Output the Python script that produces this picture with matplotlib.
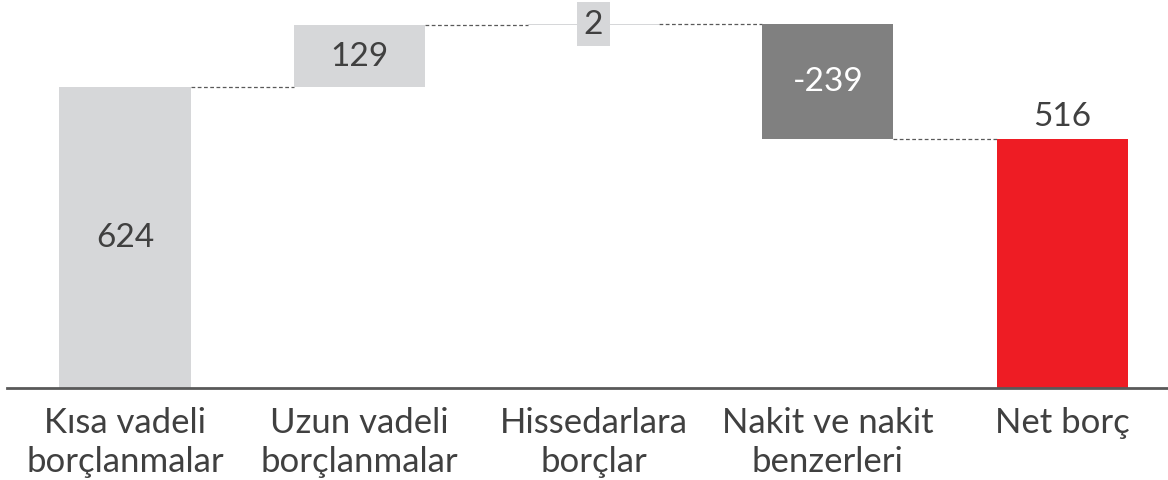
import matplotlib
matplotlib.use("Agg")
import matplotlib.pyplot as plt
from matplotlib import font_manager

categories = ["Kısa vadeli\nborçlanmalar", "Uzun vadeli\nborçlanmalar", "Hissedarlara\nborçlar",
              "Nakit ve nakit\nbenzerleri", "Net borç"]
values = [624, 129, 2, -239, 516]
kinds = ["start", "delta", "delta", "delta", "total"]

names = {f.name for f in font_manager.fontManager.ttflist}
fam = "Lato" if "Lato" in names else "DejaVu Sans"
plt.rcParams['font.family'] = [fam, 'DejaVu Sans']

LIGHT = "#d6d7d9"
DARK = "#808080"
RED = "#ee1c24"
TXT = "#404040"

fig = plt.figure(figsize=(11.68, 4.81), dpi=100)
ax = fig.add_axes([7/1168, 92/481, 1161/1168, 389/481])

width = 0.56
running = 0
bottoms, heights, colors = [], [], []
for v, k in zip(values, kinds):
    if k == "start" or k == "total":
        b, h = 0, v
        running = v
        colors.append(LIGHT if k == "start" else RED)
    else:
        if v >= 0:
            b, h = running, v
        else:
            b, h = running + v, -v
        running += v
        colors.append(LIGHT if v >= 0 else DARK)
    bottoms.append(b)
    heights.append(h)

xs = list(range(len(values)))
ax.bar(xs, heights, bottom=bottoms, width=width, color=colors, zorder=2)

# connectors
running = 0
levels = []
for v, k in zip(values, kinds):
    if k in ("start", "total"):
        running = v
    else:
        running += v
    levels.append(running)
for i in range(len(values) - 1):
    ax.plot([i + width/2, i + 1 - width/2], [levels[i], levels[i]], color="#595959",
            lw=0.9, ls=(0, (3, 2)), zorder=1)

# labels
fs_val = 24
W = "normal"
for i, (v, k) in enumerate(zip(values, kinds)):
    txt = f"{v}"
    if k == "total":
        ax.text(i, bottoms[i] + heights[i] + 16, txt, ha="center", va="bottom",
                fontsize=fs_val, color=TXT, fontweight=W)
    elif heights[i] < 20:
        ax.text(i, bottoms[i] + heights[i]/2, txt, ha="center", va="center",
                fontsize=fs_val, color=TXT, fontweight=W,
                bbox=dict(boxstyle="square,pad=0.2", fc=LIGHT, ec="none"), zorder=3)
    else:
        col = "white" if colors[i] == DARK else TXT
        ax.text(i, bottoms[i] + heights[i]/2, txt, ha="center", va="center",
                fontsize=fs_val, color=col, fontweight=W)

ax.set_xlim(-0.504, 4.452)
ax.set_ylim(0, 806)
ax.set_xticks(xs)
ax.set_xticklabels(categories, fontsize=25, color=TXT, fontweight=W, linespacing=1.28)
ax.tick_params(axis="x", length=0, pad=13)
ax.set_yticks([])
for s in ["top", "right", "left"]:
    ax.spines[s].set_visible(False)
ax.spines["bottom"].set_color("#595959")
ax.spines["bottom"].set_linewidth(2)

fig.savefig("out.png", dpi=100)
